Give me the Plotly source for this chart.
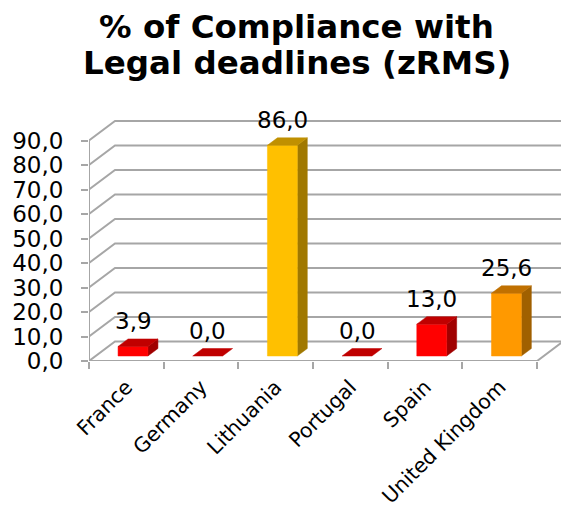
import plotly.graph_objects as go

# ---- data ----
categories = ["France", "Germany", "Lithuania", "Portugal", "Spain", "United Kingdom"]
values = [3.9, 0.0, 86.0, 0.0, 13.0, 25.6]
front_colors = ["#FF0000", "#FF0000", "#FFC000", "#FF0000", "#FF0000", "#FF9900"]
top_colors = ["#C00000", "#C00000", "#C09000", "#C00000", "#C00000", "#C07000"]
side_colors = ["#A00000", "#A00000", "#A07800", "#A00000", "#A00000", "#A06000"]
y_ticks = [0, 10, 20, 30, 40, 50, 60, 70, 80, 90]
y_ticktext = ["%d,0" % v for v in y_ticks]

# ---- 3D projection parameters (in data units) ----
DX = 0.348   # category units shift from front plane to back wall
DY = 7.96    # value units shift from front plane to back wall
D0, D1 = 0.256, 0.641   # depth of bar front / back faces
HW = 0.20    # half bar width (category units)
XMAX = 5.82
GRID = "#A6A6A6"

fig = go.Figure()

# back wall + side wall gridlines
gx, gy = [], []
for v in y_ticks:
    gx += [-0.5, -0.5 + DX, len(categories) - 0.5 + DX, None]
    gy += [v, v + DY, v + DY, None]
# front axis line, floor front edge, floor right edge
gx += [-0.5, -0.5, None, -0.5, len(categories) - 0.5, len(categories) - 0.5 + DX, None]
gy += [0, y_ticks[-1], None, 0, 0, DY, None]
fig.add_trace(go.Scatter(x=gx, y=gy, mode="lines", line=dict(color=GRID, width=2),
                         hoverinfo="skip", showlegend=False))

def poly(xs, ys, color):
    fig.add_trace(go.Scatter(x=xs + [xs[0]], y=ys + [ys[0]], mode="lines", fill="toself",
                             fillcolor=color, line=dict(color=color, width=0.5),
                             hoverinfo="skip", showlegend=False))

for i, (cat, v) in enumerate(zip(categories, values)):
    x0l = i - HW + D0 * DX
    x0r = i + HW + D0 * DX
    x1l = i - HW + D1 * DX
    x1r = i + HW + D1 * DX
    y0 = D0 * DY
    y1 = D1 * DY
    if v > 0:
        poly([x0r, x1r, x1r, x0r], [y0, y1, v + y1, v + y0], side_colors[i])
        poly([x0l, x0r, x0r, x0l], [y0, y0, v + y0, v + y0], front_colors[i])
    poly([x0l, x0r, x1r, x1l], [v + y0, v + y0, v + y1, v + y1], top_colors[i])
    fig.add_annotation(x=i + D0 * DX, y=v + y0, yshift=25, text=("%.1f" % v).replace(".", ","),
                       showarrow=False, yanchor="middle", xanchor="center",
                       font=dict(family="DejaVu Sans", size=23, color="#000000"))

# title (two lines)
fig.add_annotation(xref="paper", yref="paper", x=0.44, y=1.0, yshift=73,
                   xanchor="center", yanchor="middle",
                   text="<b>% of Compliance with</b>", showarrow=False,
                   font=dict(family="DejaVu Sans", size=32.5, color="#000000"))
fig.add_annotation(xref="paper", yref="paper", x=0.44, y=1.0, yshift=37,
                   xanchor="center", yanchor="middle",
                   text="<b>Legal deadlines (zRMS)</b>", showarrow=False,
                   font=dict(family="DejaVu Sans", size=32.5, color="#000000"))

fig.update_layout(
    width=561, height=513,
    margin=dict(l=89, r=0, t=100, b=152, autoexpand=False),
    paper_bgcolor="white", plot_bgcolor="white",
    font=dict(family="DejaVu Sans", color="#000000"),
    showlegend=False,
    xaxis=dict(range=[-0.5, XMAX], tickvals=list(range(len(categories))), ticktext=categories,
               tickangle=-45, ticks="", showgrid=False, zeroline=False, showline=False,
               automargin=False, ticklabelstandoff=9,
               tickfont=dict(size=20.5, family="DejaVu Sans")),
    xaxis2=dict(range=[-0.5, XMAX], overlaying="x", anchor="y", side="bottom",
                tickvals=[k - 0.5 for k in range(len(categories) + 1)], showticklabels=False,
                ticks="outside", ticklen=7, tickwidth=2, tickcolor=GRID, automargin=False,
                showgrid=False, zeroline=False, showline=False),
    yaxis=dict(range=[0, 261 / 2.45], tickvals=y_ticks, ticktext=y_ticktext,
               ticks="outside", ticklen=7, tickwidth=2, tickcolor=GRID, automargin=False,
               showgrid=False, zeroline=False, showline=False, ticklabelstandoff=13,
               tickfont=dict(size=23, family="DejaVu Sans")),
)
fig.add_trace(go.Scatter(x=[None], y=[None], xaxis="x2", showlegend=False, hoverinfo="skip"))

fig.write_html("out.html", config={"displayModeBar": False},
               post_script="document.body.style.margin='0px';")
